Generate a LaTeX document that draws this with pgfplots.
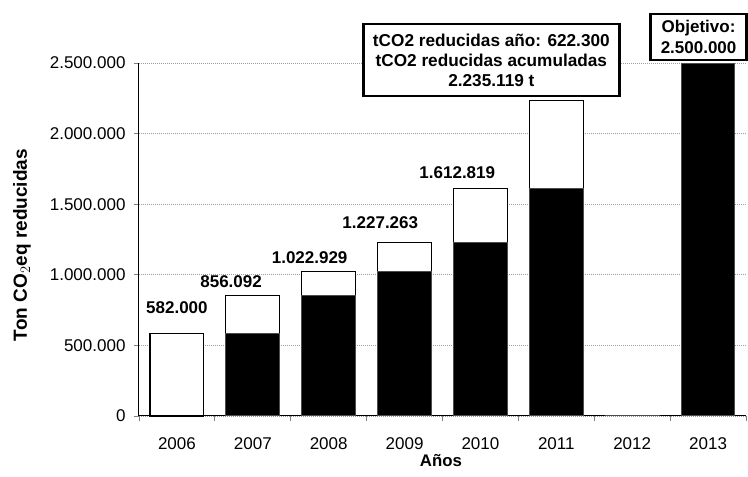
\documentclass[border=0pt]{standalone}
\usepackage{fontspec}
\setmainfont{Liberation Sans}
\usepackage{pgfplots}
\pgfplotsset{compat=1.18}

\tikzset{
  lbl/.style={fill=white, inner sep=1pt, font=\bfseries\fontsize{17}{19}\selectfont},
  box/.style={draw=black, line width=2.5pt, fill=white, align=center, inner sep=2pt},
}

\begin{document}
\begin{tikzpicture}
  \useasboundingbox (-139pt,-61pt) rectangle (609pt,416pt);
  \begin{axis}[
      scale only axis,
      width=607pt, height=353pt,
      at={(0,0)}, anchor=south west,
      ybar stacked,
      bar width=0.71,
      clip=false,
      xmin=-0.5, xmax=7.5,
      ymin=0, ymax=2500000,
      xtick={-0.5,0.5,1.5,2.5,3.5,4.5,5.5,6.5,7.5},
      x tick label as interval,
      xticklabels={2006,2007,2008,2009,2010,2011,2012,2013},
      ytick={0,500000,1000000,1500000,2000000,2500000},
      yticklabels={0,500.000,1.000.000,1.500.000,2.000.000,2.500.000},
      scaled y ticks=false,
      xticklabel style={anchor=center, yshift=-23pt, font=\fontsize{17}{19}\selectfont},
      yticklabel style={anchor=east, xshift=-5pt, font=\fontsize{17}{19}\selectfont},
      axis x line=bottom, axis y line=left,
      axis line style={-, black, line width=1pt},
      tick align=outside,
      major tick length=5pt,
      tick style={gray, line width=0.8pt},
      ymajorgrids,
      major grid style={gray!75, line width=0.6pt, dash pattern=on 1pt off 1pt},
      ylabel={Ton CO$_2$eq reducidas},
      ylabel style={at={(axis description cs:-0.193,0.484)}, anchor=center,
        font=\bfseries\fontsize{19}{21}\selectfont},
      xlabel={Años},
      xlabel style={at={(axis description cs:0.4975,-0.1275)}, anchor=center,
        font=\bfseries\fontsize{16.8}{19}\selectfont},
    ]
    % acumulado de años anteriores
    \addplot[fill=black, draw=black!70, line width=1pt] coordinates {
      (0,0) (1,582000) (2,856092) (3,1022929) (4,1227263) (5,1612819) (6,6000) (7,2500000)
    };
    % reducción del año
    \addplot[fill=white, draw=black, line width=1.2pt] coordinates {
      (0,582000) (1,274092) (2,166837) (3,204334) (4,385556) (5,622300) (6,0) (7,0)
    };

    \node[lbl] at (axis cs:0,765000) {582.000};
    \node[lbl] at (axis cs:0.714,951000) {856.092};
    \node[lbl] at (axis cs:1.749,1119000) {1.022.929};
    \node[lbl] at (axis cs:2.68,1369000) {1.227.263};
    \node[lbl] at (axis cs:3.695,1721000) {1.612.819};

    \node[box, minimum width=256pt, minimum height=72pt,
      font=\bfseries\fontsize{17.2}{20}\selectfont] at (axis cs:4.144,2521000)
      {tCO2 reducidas año: 622.300\\tCO2 reducidas acumuladas\\2.235.119 t};
    \node[box, minimum width=96pt, minimum height=46pt,
      font=\bfseries\fontsize{17}{21}\selectfont] at (axis cs:6.875,2684000)
      {Objetivo:\\2.500.000};
  \end{axis}
\end{tikzpicture}
\end{document}
